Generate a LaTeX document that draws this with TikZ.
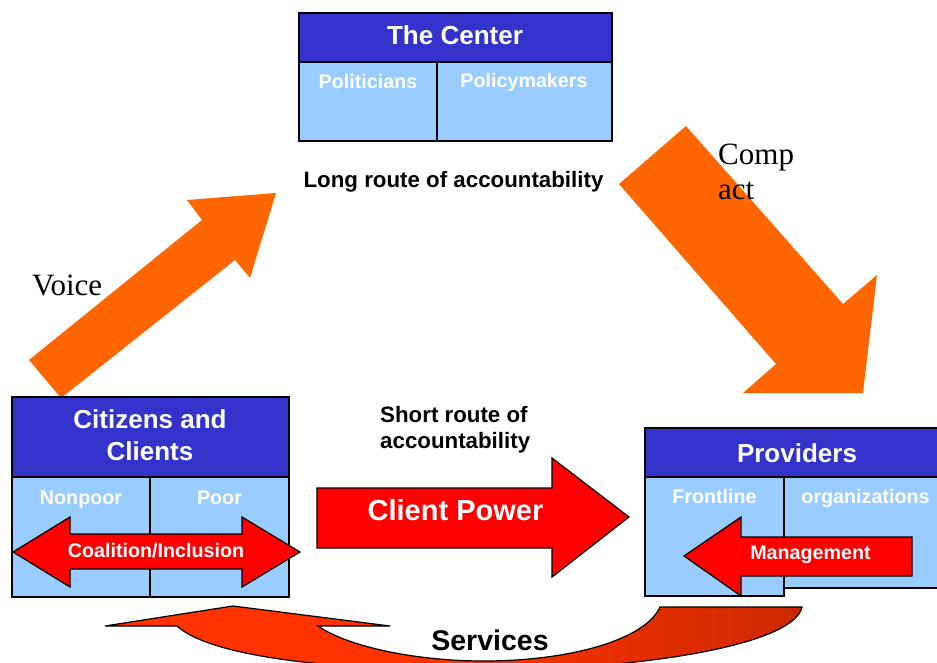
\documentclass[tikz,border=0pt]{standalone}
\usepackage{fontspec}
\setmainfont{Liberation Serif}
\setsansfont{Liberation Sans}
\definecolor{hdrblue}{HTML}{3333CC}
\definecolor{cellblue}{HTML}{99CCFF}
\definecolor{arrorange}{HTML}{FF6600}
\definecolor{arrred}{HTML}{FF0000}
\definecolor{srvlight}{HTML}{FF3300}
\definecolor{srvdark}{HTML}{CC2900}
\tikzset{
  hdr/.style={draw=black, line width=1.5pt, fill=hdrblue, inner sep=0pt},
  cell/.style={draw=black, line width=1.5pt, fill=cellblue, inner sep=0pt},
  title/.style={text=white, anchor=base, inner sep=0pt, font=\sffamily\bfseries\fontsize{26}{31}\selectfont},
  bigtitle/.style={title, font=\sffamily\bfseries\fontsize{29}{34}\selectfont},
  sub/.style={text=white, anchor=base, inner sep=0pt, font=\sffamily\bfseries\fontsize{19.7}{24}\selectfont},
  note/.style={text=black, inner sep=0pt, font=\sffamily\bfseries\fontsize{22.3}{27}\selectfont},
  serif/.style={text=black, anchor=base west, inner sep=0pt, font=\rmfamily\fontsize{31}{36}\selectfont},
  orangearrow/.style={fill=arrorange},
  redarrow/.style={fill=arrred, draw=black, line width=1.2pt, line join=miter},
}
\begin{document}
\begin{tikzpicture}[x=1pt, y=-1pt]
\useasboundingbox (0,0) rectangle (937,663);
\clip (0,0) rectangle (937,663);

% Voice and Compact arrows (long route)
\fill[orangearrow] (61,398) -- (29,360) -- (202,220) -- (187,200) -- (276,193)
  -- (250,278) -- (235,260) -- cycle;
\fill[orangearrow] (686,126) -- (843,304) -- (877,275) -- (863,393) -- (743,393)
  -- (776,364) -- (619,184) -- cycle;

% The Center
\node[hdr, minimum width=313pt, minimum height=49pt] (ctrhead) at (455.5,37.5) {};
\node[cell, minimum width=138pt, minimum height=79pt] (pol) at (368,101.5) {};
\node[cell, minimum width=175pt, minimum height=79pt] (pmk) at (524.5,101.5) {};
\node[title] (ctrtext) at (455,45) {The Center};
\node[sub] (poltext) at (368,89) {Politicians};
\node[sub] (pmktext) at (524,88) {Policymakers};
\node[note, anchor=base] (longroute) at (453.5,188) {Long route of accountability};

% Citizens and Clients
\node[hdr, minimum width=277pt, minimum height=80pt] (cithead) at (150.5,437) {};
\node[cell, minimum width=138pt, minimum height=120pt] (nonpoor) at (81,537) {};
\node[cell, minimum width=139pt, minimum height=120pt] (poor) at (219.5,537) {};
\node[title] (cit1) at (150,428) {Citizens and};
\node[title] (cit2) at (150,460) {Clients};
\node[sub] (nonpoortext) at (81,504) {Nonpoor};
\node[sub] (poortext) at (219.5,504) {Poor};

% Providers
\node[hdr, minimum width=300pt, minimum height=49pt] (provhead) at (795,452.5) {};
\node[cell, minimum width=161pt, minimum height=111pt] (orgs) at (864.5,532.5) {};
\node[cell, minimum width=139pt, minimum height=119pt] (front) at (714.5,536.5) {};
\node[title] (provtext) at (797,462) {Providers};
\node[sub] (fronttext) at (714.5,503) {Frontline};
\node[sub] (orgstext) at (865.5,503) {organizations};

% Coalition/Inclusion double arrow
\draw[redarrow] (13,552) -- (70,517) -- (70,534) -- (242,534) -- (242,517)
  -- (300,552) -- (242,587) -- (242,569) -- (70,569) -- (70,587) -- cycle;
\node[sub] (coalition) at (156,557) {Coalition/Inclusion};

% Client Power arrow (short route)
\draw[redarrow] (317,488) -- (552,488) -- (552,458) -- (629,517) -- (552,577)
  -- (552,548) -- (317,548) -- cycle;
\node[bigtitle] (clientpower) at (455.5,520) {Client Power};
\node[note, anchor=base west] (short1) at (380,422) {Short route of};
\node[note, anchor=base west] (short2) at (380,448) {accountability};

% Management arrow
\draw[redarrow] (684,556) -- (741,517) -- (741,537) -- (912,537) -- (912,576)
  -- (741,576) -- (741,596) -- cycle;
\node[sub] (mgmt) at (810.5,559) {Management};

% Services curved arrow
\draw[line width=1.2pt, left color=srvlight, right color=srvdark, middle color=srvlight, line join=miter]
  (105,626) -- (233,606) -- (390,626) -- (318,626)
  .. controls (350,648) and (420,661) .. (483,661)
  .. controls (570,661) and (645,640) .. (660,607)
  -- (802,607)
  .. controls (795,640) and (680,662) .. (560,668)
  .. controls (400,675) and (220,665) .. (177,626) -- cycle;
\node[bigtitle, text=black, font=\sffamily\bfseries\fontsize{28.5}{34}\selectfont] (services) at (490,650) {Services};

% Serif labels of the long route
\node[serif] (voice) at (32,295) {Voice};
\node[serif] (comp1) at (718,165) {Comp};
\node[serif] (comp2) at (718,200) {act};
\end{tikzpicture}
\end{document}
